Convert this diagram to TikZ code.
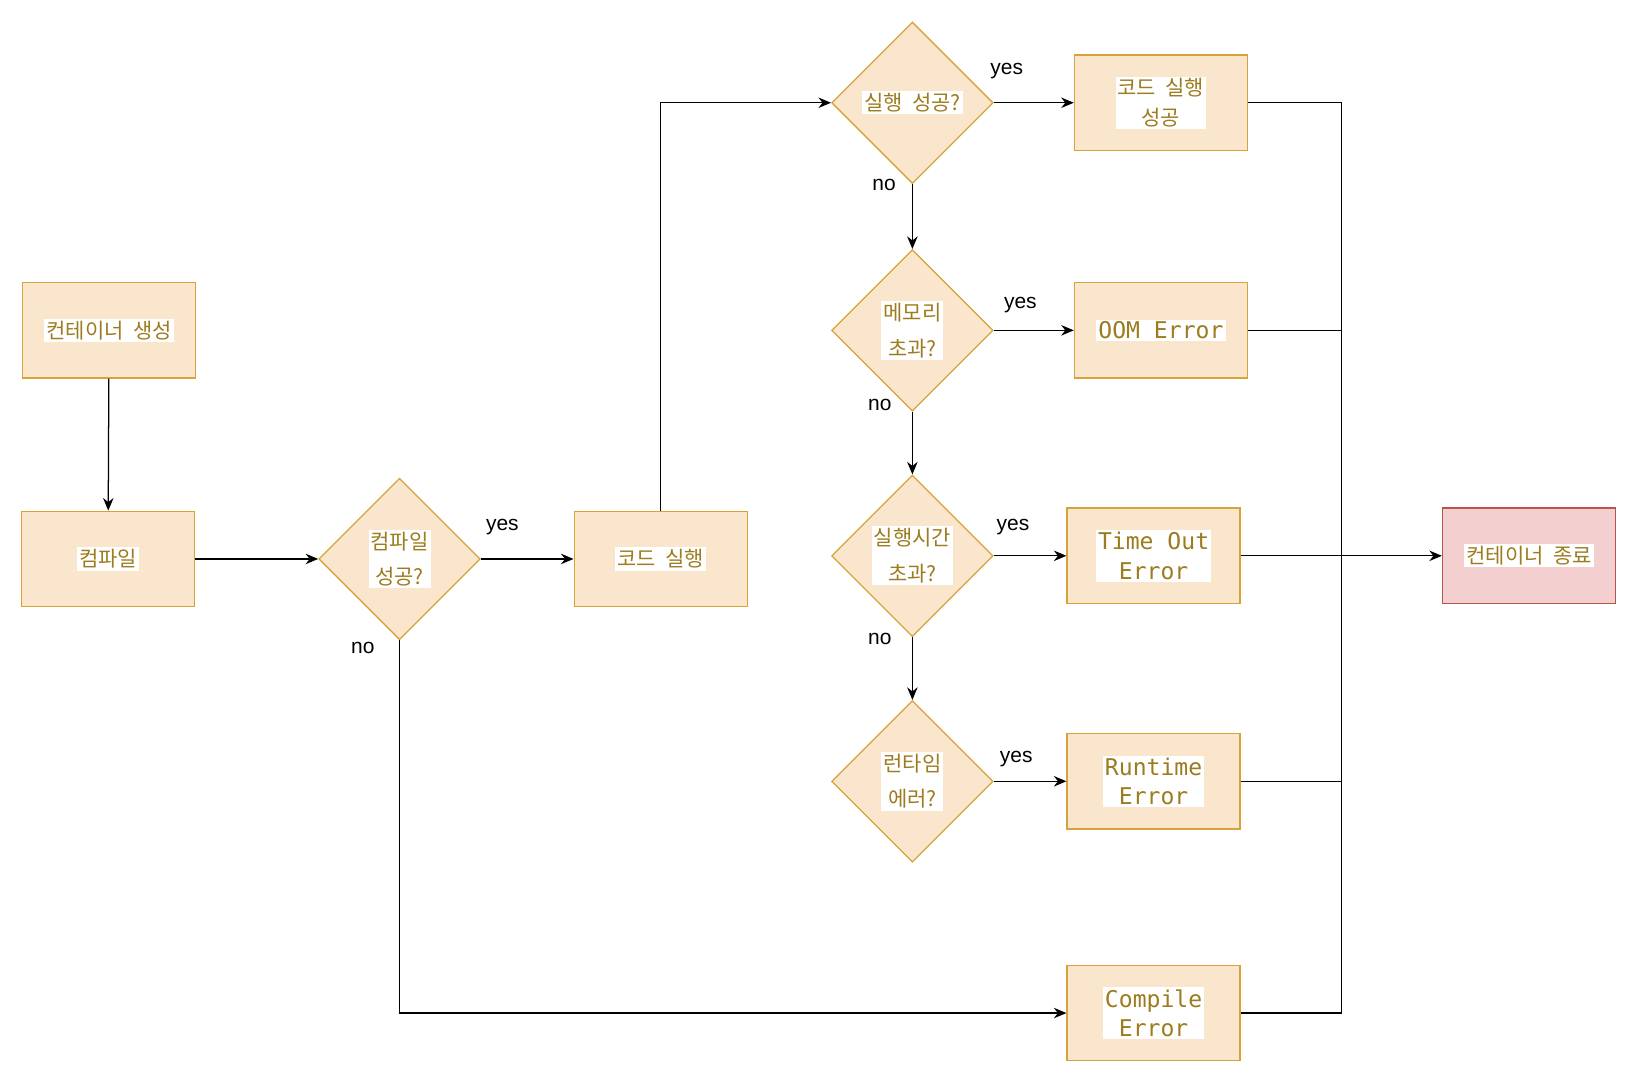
\documentclass[tikz,border=0pt]{standalone}
\usepackage{fontspec}
\setmainfont{Liberation Sans}
\newfontfamily\kr{Noto Sans CJK KR}
\newfontfamily\mono{DejaVu Sans Mono}
\usetikzlibrary{arrows.meta,shapes.geometric}
\definecolor{ofill}{HTML}{FAE6CD}
\definecolor{oline}{HTML}{D6A33A}
\definecolor{otext}{HTML}{9C7C1E}
\definecolor{rfill}{HTML}{F3CFCF}
\definecolor{rline}{HTML}{B85450}
\begin{document}
\begin{tikzpicture}[x=0.5pt,y=-0.5pt,
  box/.style={draw=oline,fill=ofill,line width=0.6pt,minimum width=82.5pt,minimum height=45.5pt,inner sep=0pt},
  rbox/.style={box,draw=rline,fill=rfill},
  dia/.style={draw=oline,fill=ofill,line width=0.6pt,diamond,minimum width=77pt,minimum height=77pt,inner sep=0pt},
  kt/.style={fill=white,text=otext,inner sep=1pt,align=center,font=\kr\fontsize{10}{17}\selectfont},
  mt/.style={fill=white,text=otext,inner sep=1pt,align=center,font=\mono\fontsize{11}{14}\selectfont},
  lab/.style={font=\fontsize{10}{12}\selectfont},
  arr/.style={-{Stealth[length=6pt,width=5pt]},line width=0.6pt},
  ln/.style={line width=0.6pt}]
\useasboundingbox (0,0) rectangle (1560,1036);
\node[box] (A) at (104,315) {}; \node[kt] at (A) {컨테이너\ \ 생성};
\node[box] (B) at (103,533) {}; \node[kt] at (B) {컴파일};
\node[dia] (D1) at (381,533) {}; \node[kt] at (D1) {컴파일\\성공?};
\node[box] (C) at (630,533) {}; \node[kt] at (C) {코드\ \ 실행};
\node[dia] (D2) at (870,98) {}; \node[kt] at (D2) {실행\ \ 성공?};
\node[box] (R1) at (1107,98) {}; \node[kt,font=\kr\fontsize{10}{14}\selectfont] at (R1) {코드\ \ 실행\\성공};
\node[dia] (D3) at (870,315) {}; \node[kt] at (D3) {메모리\\초과?};
\node[box] (R2) at (1107,315) {}; \node[mt] at (R2) {OOM Error};
\node[dia] (D4) at (870,530) {}; \node[kt] at (D4) {실행시간\\초과?};
\node[box] (R3) at (1100,530) {}; \node[mt] at (R3) {Time Out\\Error};
\node[dia] (D5) at (870,745) {}; \node[kt] at (D5) {런타임\\에러?};
\node[box] (R4) at (1100,745) {}; \node[mt] at (R4) {Runtime\\Error};
\node[box] (R5) at (1100,966) {}; \node[mt] at (R5) {Compile\\Error};
\node[rbox] (E) at (1458,530) {}; \node[kt] at (E) {컨테이너\ \ 종료};
\coordinate (bus) at (1279,530);
\draw[arr] (A) -- (B);
\draw[arr] (B) -- (D1);
\draw[arr] (D1.east) -- (C.west);
\draw[arr] (C.north) |- (D2.west);
\draw[arr] (D2.east) -- (R1.west);
\draw[arr] (D2.south) -- (D3.north);
\draw[arr] (D3.east) -- (R2.west);
\draw[arr] (D3.south) -- (D4.north);
\draw[arr] (D4.east) -- (R3.west);
\draw[arr] (D4.south) -- (D5.north);
\draw[arr] (D5.east) -- (R4.west);
\draw[arr] (D1.south) |- (R5.west);
\draw[ln] (R1.east) -| (bus);
\draw[ln] (R5.east) -| (bus);
\draw[ln] (R2.east) -- (R2.east -| bus);
\draw[ln] (R4.east) -- (R4.east -| bus);
\draw[arr] (R3.east) -- (E.west);
\node[lab] at (960,68) {yes};
\node[lab] at (843,176) {no};
\node[lab] at (973,291) {yes};
\node[lab] at (839,386) {no};
\node[lab] at (966,503) {yes};
\node[lab] at (839,609) {no};
\node[lab] at (969,724) {yes};
\node[lab] at (346,618) {no};
\node[lab] at (479,503) {yes};
\end{tikzpicture}
\end{document}
